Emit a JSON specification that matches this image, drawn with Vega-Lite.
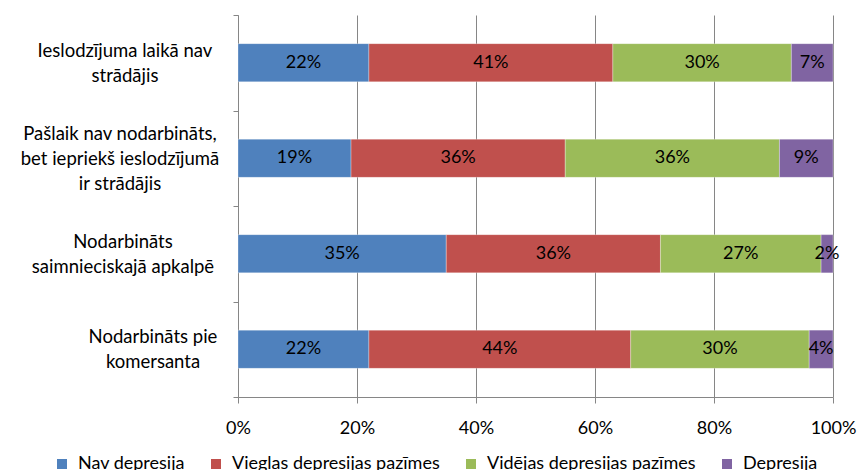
{
  "$schema": "https://vega.github.io/schema/vega-lite/v6.json",
  "width": 595,
  "height": 382,
  "autosize": {"type": "none"},
  "padding": {"left": 238, "top": 15, "right": 25, "bottom": 73},
  "background": "white",
  "config": {
    "view": {"stroke": null},
    "font": "Lato",
    "axis": {"labelFont": "Lato", "labelColor": "#000000"},
    "legend": {"labelFont": "Lato", "labelColor": "#000000"}
  },
  "data": {
    "values": [
      {"grupa": "Ieslodzījuma laikā nav strādājis", "limenis": "Nav depresija", "k": 1, "pct": 0.22},
      {"grupa": "Ieslodzījuma laikā nav strādājis", "limenis": "Vieglas depresijas pazīmes", "k": 2, "pct": 0.41},
      {"grupa": "Ieslodzījuma laikā nav strādājis", "limenis": "Vidējas depresijas pazīmes", "k": 3, "pct": 0.30},
      {"grupa": "Ieslodzījuma laikā nav strādājis", "limenis": "Depresija", "k": 4, "pct": 0.07},
      {"grupa": "Pašlaik nav nodarbināts, bet iepriekš ieslodzījumā ir strādājis", "limenis": "Nav depresija", "k": 1, "pct": 0.19},
      {"grupa": "Pašlaik nav nodarbināts, bet iepriekš ieslodzījumā ir strādājis", "limenis": "Vieglas depresijas pazīmes", "k": 2, "pct": 0.36},
      {"grupa": "Pašlaik nav nodarbināts, bet iepriekš ieslodzījumā ir strādājis", "limenis": "Vidējas depresijas pazīmes", "k": 3, "pct": 0.36},
      {"grupa": "Pašlaik nav nodarbināts, bet iepriekš ieslodzījumā ir strādājis", "limenis": "Depresija", "k": 4, "pct": 0.09},
      {"grupa": "Nodarbināts saimnieciskajā apkalpē", "limenis": "Nav depresija", "k": 1, "pct": 0.35},
      {"grupa": "Nodarbināts saimnieciskajā apkalpē", "limenis": "Vieglas depresijas pazīmes", "k": 2, "pct": 0.36},
      {"grupa": "Nodarbināts saimnieciskajā apkalpē", "limenis": "Vidējas depresijas pazīmes", "k": 3, "pct": 0.27},
      {"grupa": "Nodarbināts saimnieciskajā apkalpē", "limenis": "Depresija", "k": 4, "pct": 0.02},
      {"grupa": "Nodarbināts pie komersanta", "limenis": "Nav depresija", "k": 1, "pct": 0.22},
      {"grupa": "Nodarbināts pie komersanta", "limenis": "Vieglas depresijas pazīmes", "k": 2, "pct": 0.44},
      {"grupa": "Nodarbināts pie komersanta", "limenis": "Vidējas depresijas pazīmes", "k": 3, "pct": 0.30},
      {"grupa": "Nodarbināts pie komersanta", "limenis": "Depresija", "k": 4, "pct": 0.04}
    ]
  },
  "transform": [
    {"stack": "pct", "groupby": ["grupa"], "sort": [{"field": "k", "order": "ascending"}], "as": ["x0", "x1"]},
    {"calculate": "(datum.x0 + datum.x1) / 2", "as": "xMid"}
  ],
  "encoding": {
    "y": {
      "field": "grupa",
      "type": "nominal",
      "sort": [
        "Ieslodzījuma laikā nav strādājis",
        "Pašlaik nav nodarbināts, bet iepriekš ieslodzījumā ir strādājis",
        "Nodarbināts saimnieciskajā apkalpē",
        "Nodarbināts pie komersanta"
      ],
      "scale": {"paddingInner": 0, "paddingOuter": 0},
      "axis": {
        "title": null,
        "domainColor": "#868686",
        "tickColor": "#868686",
        "tickSize": 5,
        "tickBand": "extent",
        "labelFontSize": 18.5,
        "labelLineHeight": 25,
        "labelBaseline": "middle",
        "labelLimit": 0,
        "labelAlign": "center",
        "labelPadding": {
          "condition": [
            {"test": "datum.value == 'Ieslodzījuma laikā nav strādājis'", "value": 108.5},
            {"test": "datum.value == 'Pašlaik nav nodarbināts, bet iepriekš ieslodzījumā ir strādājis'", "value": 113.5},
            {"test": "datum.value == 'Nodarbināts saimnieciskajā apkalpē'", "value": 110.5}
          ],
          "value": 80.5
        },
        "labelOffset": {
          "condition": {"test": "datum.value == 'Pašlaik nav nodarbināts, bet iepriekš ieslodzījumā ir strādājis'", "value": -25},
          "value": -12.5
        },
        "labelExpr": "datum.value == 'Ieslodzījuma laikā nav strādājis' ? ['Ieslodzījuma laikā nav', 'strādājis'] : datum.value == 'Pašlaik nav nodarbināts, bet iepriekš ieslodzījumā ir strādājis' ? ['Pašlaik nav nodarbināts,', 'bet iepriekš ieslodzījumā', 'ir strādājis'] : datum.value == 'Nodarbināts saimnieciskajā apkalpē' ? ['Nodarbināts', 'saimnieciskajā apkalpē'] : datum.value == 'Nodarbināts pie komersanta' ? ['Nodarbināts pie', 'komersanta'] : ''"
      }
    }
  },
  "layer": [
    {
      "mark": {"type": "bar", "height": {"band": 0.4}, "stroke": "#ffffff", "strokeWidth": 0.6, "strokeOpacity": 0.5},
      "encoding": {
        "x": {
          "field": "x0",
          "type": "quantitative",
          "scale": {"domain": [0, 1], "nice": false},
          "axis": {
            "title": null,
            "values": [0, 0.2, 0.4, 0.6, 0.8, 1],
            "format": ".0%",
            "grid": true,
            "gridColor": "#868686",
            "domainColor": "#868686",
            "tickColor": "#868686",
            "tickSize": 6,
            "labelFontSize": 18,
            "labelPadding": 16,
            "labelFlush": false
          }
        },
        "x2": {"field": "x1"},
        "color": {
          "field": "limenis",
          "type": "nominal",
          "scale": {
            "domain": ["Nav depresija", "Vieglas depresijas pazīmes", "Vidējas depresijas pazīmes", "Depresija"],
            "range": ["#4F81BD", "#C0504D", "#9BBB59", "#8064A2"]
          },
          "legend": {
            "title": null,
            "orient": "none",
            "direction": "horizontal",
            "legendX": -185,
            "legendY": 440,
            "symbolType": "square",
            "symbolSize": 100,
            "symbolStrokeWidth": 0,
            "labelFontSize": 18,
            "labelLimit": 0,
            "labelOffset": 7,
            "columnPadding": 22
          }
        }
      }
    },
    {
      "mark": {"type": "text", "fontSize": 18, "color": "#000000", "align": "center", "baseline": "middle"},
      "encoding": {
        "x": {"field": "xMid", "type": "quantitative"},
        "text": {"field": "pct", "type": "quantitative", "format": ".0%"}
      }
    }
  ]
}
